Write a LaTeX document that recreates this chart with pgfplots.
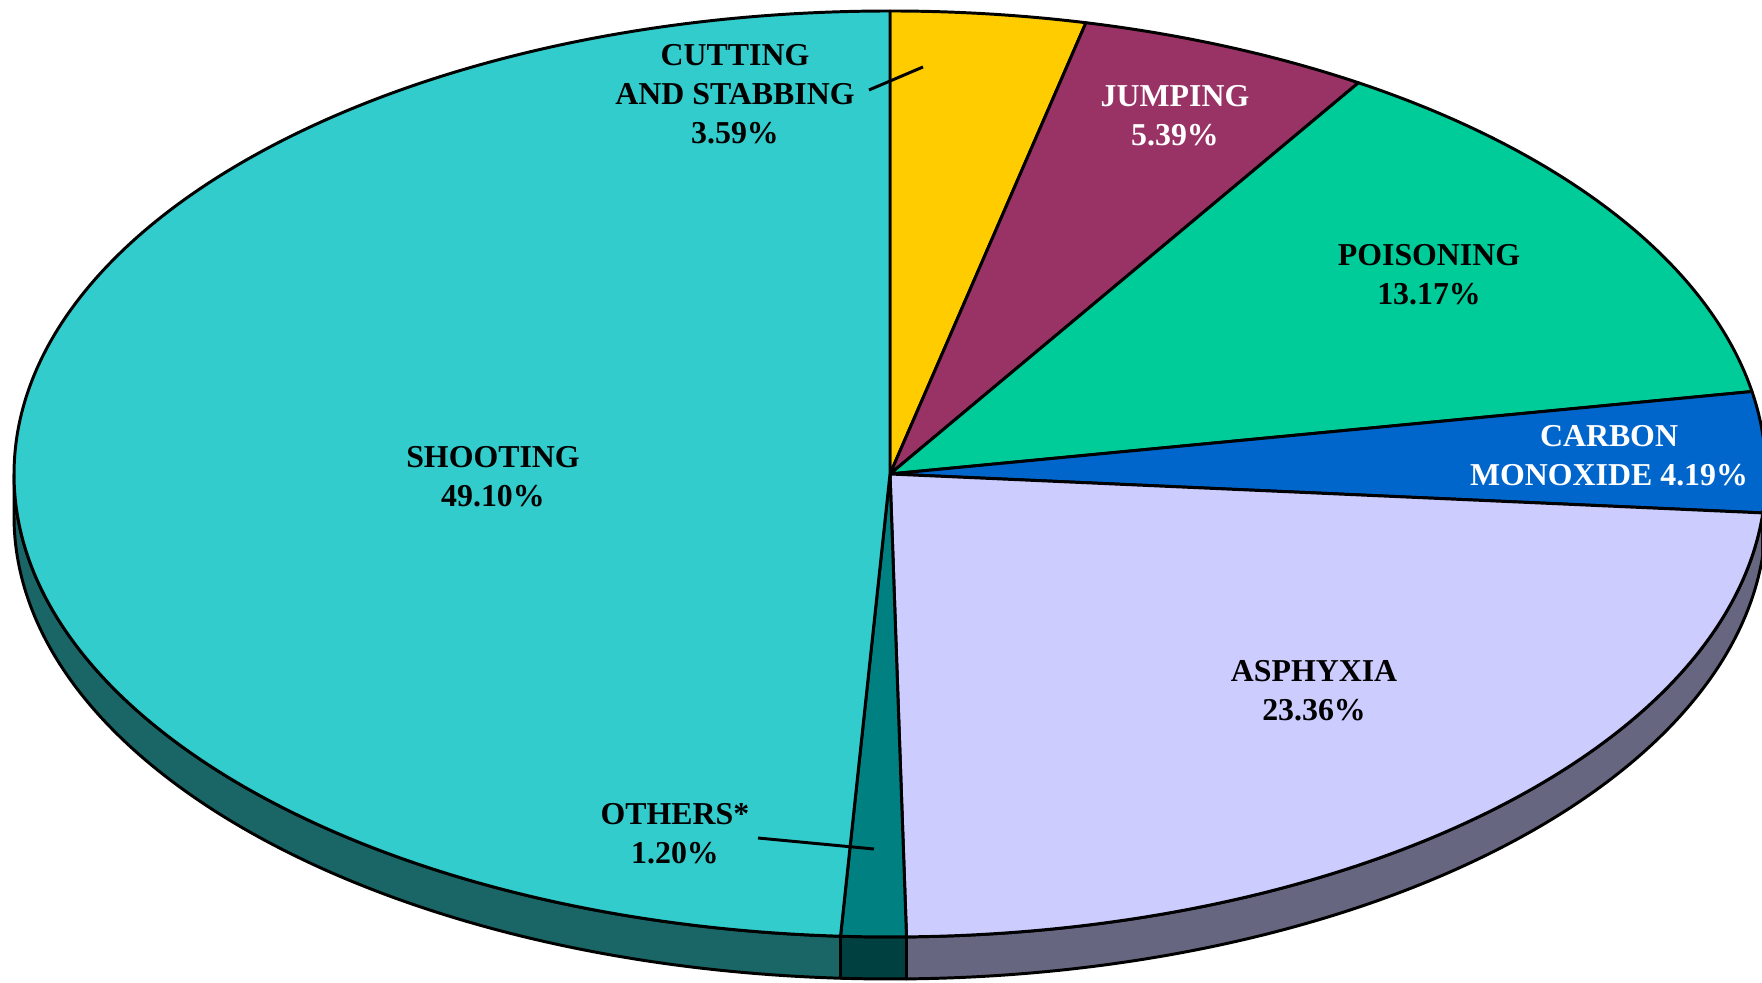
\documentclass[border=0pt]{standalone}
\usepackage{pgfplots}
\pgfplotsset{compat=1.18}
\usepackage{fontspec}
\setmainfont{Liberation Serif}
\definecolor{cshoot}{HTML}{33CCCC}
\definecolor{ccut}{HTML}{FFCC00}
\definecolor{cjump}{HTML}{993366}
\definecolor{cpois}{HTML}{00CC99}
\definecolor{cco}{HTML}{0066CC}
\definecolor{casph}{HTML}{CCCCFF}
\definecolor{coth}{HTML}{008080}
\definecolor{sshoot}{HTML}{1A6666}
\definecolor{sasph}{HTML}{666680}
\definecolor{soth}{HTML}{004040}
\definecolor{sco}{HTML}{003366}
\tikzset{lbl/.style={font=\bfseries\fontsize{8.6}{10.5}\selectfont,align=center,inner sep=0pt}}

% ellipse: centre (890,508) in axis units, radii in pt (1 unit = 0.27pt)
\def\ra{236.52pt}
\def\rb{125.01pt}
\def\rr{236.52pt and 125.01pt}
\def\dep{11.34pt}
\newcommand\slice[3]{%
  \filldraw[fill=#3,draw=black,line width=0.8pt,line join=round] (axis cs:890,508) -- ++(#1:\rr)
    arc[start angle=#1,end angle=#2,x radius=\ra,y radius=\rb] -- cycle;}
\newcommand\side[3]{%
  \filldraw[fill=#3,draw=black,line width=0.8pt,line join=round] (axis cs:890,508) ++(#1:\rr)
    arc[start angle=#1,end angle=#2,x radius=\ra,y radius=\rb] -- ++(0,-\dep)
    arc[start angle=#2,end angle=#1,x radius=\ra,y radius=\rb] -- cycle;}

\begin{document}
\begin{tikzpicture}
% shares in percent, clockwise from the top
\pgfmathsetmacro\aA{90}
\pgfmathsetmacro\aB{\aA-3.6*3.59}  % cutting and stabbing
\pgfmathsetmacro\aC{\aB-3.6*5.39}  % jumping
\pgfmathsetmacro\aD{\aC-3.6*13.17} % poisoning
\pgfmathsetmacro\aE{\aD-3.6*4.19}  % carbon monoxide
\pgfmathsetmacro\aF{\aE-3.6*23.36} % asphyxia
\pgfmathsetmacro\aG{\aF-3.6*1.20}  % others
\pgfmathsetmacro\aH{\aG-3.6*49.10} % shooting
\begin{axis}[x=0.27pt,y=0.27pt,xmin=0,xmax=1762,ymin=0,ymax=982,hide axis]
\side{\aG}{-180}{sshoot}
\side{\aF}{\aG}{soth}
\side{\aE}{\aF}{sasph}
\side{0}{\aE}{sco}
\slice{\aA}{\aB}{ccut}
\slice{\aB}{\aC}{cjump}
\slice{\aC}{\aD}{cpois}
\slice{\aD}{\aE}{cco}
\slice{\aE}{\aF}{casph}
\slice{\aF}{\aG}{coth}
\slice{\aG}{\aH}{cshoot}
\draw[line width=0.8pt] (axis cs:869,892) -- (axis cs:923,915);
\draw[line width=0.8pt] (axis cs:758,144) -- (axis cs:874,133);
\node[lbl] at (axis cs:735,888) {CUTTING\\AND STABBING\\3.59\%};
\node[lbl,white] at (axis cs:1175,866) {JUMPING\\5.39\%};
\node[lbl] at (axis cs:1429,707) {POISONING\\13.17\%};
\node[lbl,white] at (axis cs:1609,526) {CARBON\\MONOXIDE 4.19\%};
\node[lbl] at (axis cs:1314,291) {ASPHYXIA\\23.36\%};
\node[lbl] at (axis cs:675,148) {OTHERS*\\1.20\%};
\node[lbl] at (axis cs:493,505) {SHOOTING\\49.10\%};
\end{axis}
\pgfresetboundingbox
\path (current axis.south west) rectangle (current axis.north east);
\end{tikzpicture}
\end{document}
